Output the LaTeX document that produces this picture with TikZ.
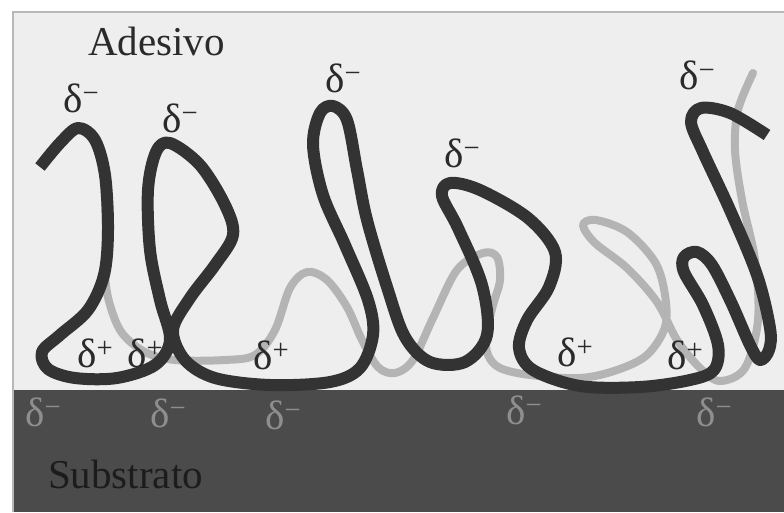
\documentclass[tikz,border=0pt]{standalone}
\usepackage{fontspec}
\setmainfont{Liberation Serif}
\newcommand{\dneg}{δ\textsuperscript{−}}
\newcommand{\dpos}{δ\textsuperscript{+}}
\begin{document}
\begin{tikzpicture}[x=1pt,y=-1pt]
\definecolor{paper}{HTML}{EEEEEE}
\definecolor{substrate}{HTML}{4B4B4B}
\definecolor{framecol}{HTML}{B8B8B8}
\definecolor{ink}{HTML}{2A2A2A}
\definecolor{chaindark}{HTML}{333333}
\definecolor{chainlight}{HTML}{B4B4B4}
\definecolor{faint}{HTML}{8E8E8E}
\definecolor{subink}{HTML}{1C1C1C}
\tikzset{
  chain/.style={draw=chaindark, line width=12pt, line join=round},
  backchain/.style={draw=chainlight, line width=8pt, line join=round, line cap=round},
  lab/.style={inner sep=0pt, anchor=base west, font=\fontsize{41}{41}\selectfont, text=ink},
  sublab/.style={lab, text=faint},
  title/.style={inner sep=0pt, anchor=base west, font=\fontsize{41}{41}\selectfont},
}
\useasboundingbox (0,0) rectangle (784,512);
\fill[white] (0,0) rectangle (784,512);
% adhesive layer and substrate
\fill[paper] (13,12) rectangle (784,390);
\fill[substrate] (13,390) rectangle (784,512);
\draw[framecol, line width=1.2pt] (13,512) -- (13,12) -- (784,12);

% second polymer chain, lying behind
\draw[backchain] plot[smooth, tension=0.55] coordinates {
  (104,178) (106,230) (105,275) (110,305) (122,333) (145,352) (175,360)
  (225,360) (255,355) (275,330) (290,288) (307,272) (327,280) (347,307)
  (362,340) (378,367) (395,373) (413,360) (433,318) (457,270) (483,253)
  (497,257) (500,280) (493,305) (486,335) (488,355) (500,368) (530,375)
  (580,378) (617,370) (647,355) (665,327) (665,295) (655,262) (627,232)
  (596,220) (583,225) (595,243) (627,268) (657,302) (677,340) (700,368)
  (720,381) (745,368) (758,320) (755,260) (742,200) (735,150) (738,110)
  (753,73)};

% front polymer chain
\draw[chain] plot[smooth, tension=0.55] coordinates {
  (40,167) (60,143) (78,128) (95,140) (105,175) (108,230) (104,275)
  (88,310) (60,335) (42,352) (48,369) (75,378) (117,378) (155,365)
  (170,340) (160,300) (150,250) (148,190) (156,152) (170,143) (200,165)
  (225,205) (233,235) (215,265) (190,298) (173,330) (185,360) (215,378)
  (270,385) (330,382) (360,368) (373,335) (368,300) (345,245) (323,195)
  (313,145) (320,113) (333,106) (347,120) (357,170) (367,220) (387,287)
  (405,337) (430,362) (465,362) (487,335) (482,285) (458,228) (442,196)
  (450,183) (480,190) (528,218) (555,252) (549,287) (527,320) (519,348)
  (533,370) (580,386) (640,387) (690,380) (714,370) (718,345) (703,305)
  (684,272) (684,257) (697,252) (712,265) (731,302) (750,345) (760,360)
  (769,350) (770,328) (757,275) (730,210) (703,152) (691,122) (701,108)
  (730,113) (767,135)};

% labels in the adhesive
\node[title, text=ink] (adh) at (88,55) {Adesivo};
\node[lab] (n1) at (63,112) {\dneg};
\node[lab] (n2) at (162,132) {\dneg};
\node[lab] (n3) at (325,92) {\dneg};
\node[lab] (n4) at (444,167) {\dneg};
\node[lab] (n5) at (679,89) {\dneg};
\node[lab] (p1) at (77,367) {\dpos};
\node[lab] (p2) at (127,367) {\dpos};
\node[lab] (p3) at (253,369) {\dpos};
\node[lab] (p4) at (557,366) {\dpos};
\node[lab] (p5) at (667,369) {\dpos};

% labels in the substrate
\node[sublab] (s1) at (25,426) {\dneg};
\node[sublab] (s2) at (150,427) {\dneg};
\node[sublab] (s3) at (265,429) {\dneg};
\node[sublab] (s4) at (506,424) {\dneg};
\node[sublab] (s5) at (696,426) {\dneg};
\node[title, text=subink] (sub) at (48,488) {Substrato};
\end{tikzpicture}
\end{document}
